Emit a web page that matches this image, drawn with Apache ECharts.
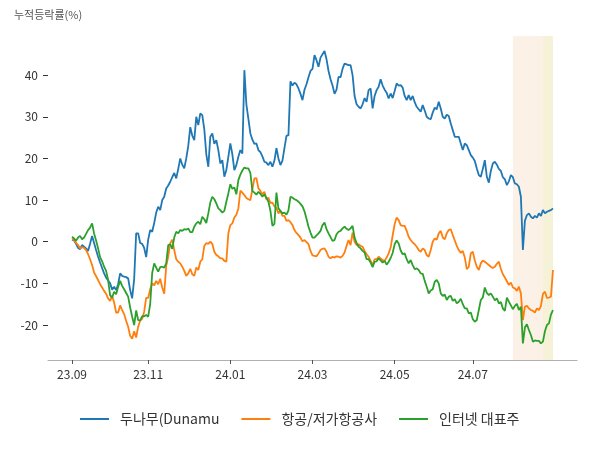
<!DOCTYPE html>
<html>
<head>
<meta charset="utf-8">
<script src="https://cdn.jsdelivr.net/npm/echarts@6/dist/echarts.min.js"></script>
<style>
html,body{margin:0;padding:0;background:#fff;}
#chart{width:600px;height:450px;}
</style>
</head>
<body>
<div id="chart"></div>
<script>
// ---- data ----
const seriesNames = ['두나무(Dunamu', '항공/저가항공사', '인터넷 대표주'];
const seriesColors = ['#1f77b4', '#ff7f0e', '#2ca02c'];
const startDate = '2023-09-01';
const endDate = '2024-08-27';
const holidays = ['2023-09-28','2023-09-29','2023-10-02','2023-10-03','2023-10-09','2023-12-25','2023-12-29',
  '2024-01-01','2024-02-09','2024-02-12','2024-03-01','2024-04-10','2024-05-01','2024-05-06','2024-05-15','2024-06-06','2024-08-15'];
const shadeRanges = [['2024-07-29','2024-08-27'],['2024-08-20','2024-08-27']];
const yTicks = [-20,-10,0,10,20,30,40];

const dunamu = [
0.5,0.3,-0.5,-1.5,-1.8,-0.8,-1.2,-1.6,-2.2,-0.5,
1.4,-0.3,-2.0,-3.6,-5.0,-6.3,-7.6,-8.6,-9.3,-10.0,
-11.5,-10.8,-11.6,-10.2,-7.6,-8.2,-8.4,-8.5,-8.8,-11.6,
-13.6,-9,2.0,2.0,-0.3,-0.5,-1.5,-3.7,0.5,2.8,
2.4,4.5,7,8.4,7.6,10,10.8,12.8,13.5,14.4,
15.5,16.5,15.2,17.5,20,18.5,17.6,20,23,27.5,
25.5,24.4,30,28,30.8,30.4,27,21,18,25.2,
26,23.5,24.4,22,18.8,19.6,15.6,17.2,20.4,23.6,
21,17.2,18.4,20.4,22,21.2,41.2,33,29.5,26,
24.5,23.5,23.6,22,21.5,20.5,19.2,19,18.4,19.2,
18,19.5,22.5,20,18.4,19.5,22.5,25.4,25.6,38.5,
37.5,38.2,37.8,36.8,35.5,34,36.5,37.8,39.5,41,
41.5,44.8,43.6,42,44.2,45,45.8,43.8,41,39,
37.5,35.5,36.5,39.6,39.5,41.5,42.8,42.6,42.4,42.4,
40,35,33,32.4,32,33,34.5,33.6,36.4,36.8,
32,35,36.4,37.2,39,37.5,36.5,35.8,34.4,35.6,
34.5,36.2,38,37.5,37.6,37,35,34,35.2,34,
35,33.5,32.4,31.8,31.2,32.8,31.5,30,29.6,29.4,
31,32.2,31.8,33.6,32,30,29.6,30.5,30.2,28.4,
26.8,25.2,25.2,25.2,23.6,22,23.6,23.2,22,20.8,
20.2,19.4,17.6,16,15.6,17.5,19.6,15.6,14.2,17,
18.8,19.2,18.5,17.5,17,15.5,15,13.6,14.5,16,
15.5,14,13.8,13.2,10.8,-2,5,6.4,6.8,6,
5.6,6.2,5.8,6.8,6.2,7.6,6.8,7.2,7.4,7.6,8
];
const airline = [
0.8,0.4,-0.3,-0.8,-1.6,-1.3,-1.5,-2,-3,-4.2,
-5.6,-7.4,-8.3,-9.2,-10.2,-11,-11.8,-12.5,-13.6,-14.2,
-13,-14.6,-17,-17,-15.3,-16.4,-17.4,-19,-20.4,-22.6,
-23.3,-21.5,-23,-20.4,-18.9,-18.5,-16.8,-13.5,-13.5,-11.4,
-10,-10.5,-9.4,-10.2,-8.9,-11,-12.5,-5.8,-3.6,-0.4,
0.5,-2,-4.2,-4.8,-5.2,-6,-7,-8.2,-7.6,-6.5,
-7.8,-8.2,-6.2,-6.8,-4.8,-4.2,-1,-0.3,-0.5,0,
-0.5,-2.4,-3.2,-3.5,-4,-4,-4.6,-4.8,2,4,
4.4,5.8,6.5,8,12.3,11.8,11.2,10.5,10.2,10,
12.6,15.2,15.3,12.8,12.2,11.4,12,10.2,10.6,9.3,
9.4,8.5,8.1,6.8,7.4,6.2,6.2,5,5.2,4.7,
4,2.8,2.1,1.6,1,0.1,0.4,-0.1,-0.6,-2.2,
-3.3,-3.4,-3.5,-2.8,-2,-1.7,-1.6,-2.4,-3.6,-4,
-3.6,-3.8,-3.5,-3.6,-3.8,-3.4,-2.6,-1,0.4,-0.8,
2.2,0,-0.8,-0.6,-1,-1.2,-2.2,-3,-3.6,-4.6,
-5.6,-4.2,-4.2,-3.6,-4,-4.4,-4.6,-3.8,-2.8,-1.4,
1.5,4.2,5.8,5.2,4,3.8,3.8,2.6,1.2,0.4,
-0.2,-0.6,-1.2,-2,-2.4,-1.6,-2,-3.2,-3.6,-2,
0,0.8,0.5,2,2.6,1,0.6,2,2.8,3,
1.6,0.3,-1,-2,-2.7,-2.2,-3.8,-6.6,-6,-2.8,
-2.4,-4.5,-6,-6.8,-5.2,-4.5,-4.8,-5.2,-5.6,-6,
-6.3,-6,-5.3,-4.8,-6.5,-7.8,-8.6,-9.5,-10.4,-9.8,
-11,-11.2,-11.8,-10.8,-12.4,-18.8,-15.6,-15.4,-16,-16.4,
-16.6,-17,-16,-16.4,-15.4,-12.5,-12,-13.5,-13.4,-13.2,-6.8
];
const internet = [
1.2,0.8,0.2,1,1.4,0.6,1,1.9,2.8,3.4,
4.4,2,0.3,-1.6,-3.7,-4.7,-6,-7,-9.2,-12.9,
-13.4,-12,-12.6,-10.8,-9.4,-10.6,-11.4,-12.3,-13.2,-15.8,
-18,-20,-16.5,-18.8,-18.9,-17.9,-17.9,-17.6,-18,-15,
-7.5,-5.2,-6.2,-7.2,-6.1,-6,-6.2,-5.2,-0.8,-0.6,
-1.7,1,2.4,2,2.8,2.6,3,2.9,3.2,2.3,
2.3,3.6,4.4,4.8,4.2,6,5.4,4.5,6.8,9.4,
10.8,10.2,9.2,8,7.6,7,7.4,9.6,11.6,13.8,
12.7,13,11.4,14.8,16.1,17.1,17.8,17.6,17.6,16.5,
12.2,11.8,11.3,12,11.5,10.8,11.4,10.5,9.6,7.4,
3.8,4.3,11.8,8,7.4,6.8,7,6.5,7.5,10.8,
10.6,10.2,10,9.6,9.1,8.5,7.3,5.5,3.6,2.2,
1,1,1.5,2,2.6,4,4.6,3,2,1.1,
0.2,0.4,1.8,2.4,2.6,3.2,3.6,3.1,2.8,3.2,
3.8,1,-0.3,-1.2,-1.6,-2.2,-2.6,-4.2,-4.2,-5,
-6.1,-4.8,-4.7,-4,-4.5,-5,-4.6,-5.5,-4.8,-3.9,
-2.7,-0.6,0.3,-0.4,-2.1,-3,-2.8,-4.2,-5.2,-4.4,
-5.6,-6.6,-6.4,-6.8,-7.6,-7.7,-9.4,-10.8,-12.4,-11.7,
-11.4,-9.6,-9.2,-10,-12.4,-13,-12.7,-14,-13.2,-13,
-14.2,-13.8,-14.8,-14.4,-13.7,-15,-16,-16,-17.2,-17,
-18.6,-19.2,-18.8,-16.4,-14,-13.4,-11,-12.3,-12.8,-12.4,
-13.2,-14.1,-13.6,-14.8,-14.5,-16,-16.6,-13.4,-14.4,-15.3,
-16.2,-15.4,-14.9,-16.4,-15.6,-24.4,-20.6,-19.8,-21.2,-22.4,
-24,-23.7,-23.8,-23.8,-24.4,-24,-21.5,-20,-19.6,-17.5,-16.4
];

// ---- trading-day categories ----
function pad(n){return (n<10?'0':'')+n;}
const dates = [];
(function(){
  const d = new Date(startDate+'T00:00:00Z');
  const end = new Date(endDate+'T00:00:00Z');
  while (d <= end) {
    const s = d.getUTCFullYear()+'-'+pad(d.getUTCMonth()+1)+'-'+pad(d.getUTCDate());
    const wd = d.getUTCDay();
    if (wd !== 0 && wd !== 6 && holidays.indexOf(s) < 0) dates.push(s);
    d.setUTCDate(d.getUTCDate()+1);
  }
})();
// 5% empty margin on both ends of the category axis (like the original plot)
const M = Math.round((dates.length - 1) * 0.05);
const cats = [];
for (let k = M; k >= 1; k--) cats.push('padL' + k);
dates.forEach(s => cats.push(s));
for (let k = 1; k <= M; k++) cats.push('padR' + k);

function isTickDay(s){
  const i = dates.indexOf(s);
  if (i < 0) return false;
  const m = +s.slice(5,7);
  return m % 2 === 1 && (i === 0 || dates[i-1].slice(5,7) !== s.slice(5,7));
}
const tickFn = (idx, val) => isTickDay(val);
const pts = arr => arr.map((v,i)=>[M + i, v]);

const font = "'Noto Sans CJK KR', 'Noto Sans', sans-serif";
const chart = echarts.init(document.getElementById('chart'), null, {renderer:'canvas'});
const lineSeries = [dunamu, airline, internet].map((arr,k)=>({
  type:'line', name:seriesNames[k], data:pts(arr), showSymbol:false, symbol:'none', z:3,
  itemStyle:{color:seriesColors[k]}, lineStyle:{width:1.8, color:seriesColors[k]}
}));
chart.setOption({
  animation:false,
  textStyle:{fontFamily:font},
  title:{text:'누적등락률(%)', left:9, top:4, textStyle:{fontSize:11, fontWeight:'normal', color:'#555', fontFamily:font}},
  grid:{left:48, right:23, top:36, bottom:90, containLabel:false},
  legend:{data:seriesNames, left:80, top:412, padding:0, icon:'rect', itemWidth:29, itemHeight:2, itemGap:22,
    textStyle:{fontSize:14, color:'#333', fontFamily:font, padding:[0,0,0,6]}},
  xAxis:{type:'category', data:cats, boundaryGap:false, position:'bottom',
    splitLine:{show:false},
    axisLine:{show:true, onZero:false, lineStyle:{color:'#b0b0b0', width:1}},
    axisTick:{show:true, interval:tickFn, length:4, lineStyle:{color:'#555'}},
    axisLabel:{interval:tickFn, margin:8, fontSize:12, color:'#333', fontFamily:font,
      formatter:v=>isTickDay(v) ? v.slice(2,4)+'.'+v.slice(5,7) : ''}
  },
  yAxis:{type:'value', min:-28.4, max:49.4,
    splitLine:{show:false},
    axisLine:{show:false},
    axisTick:{show:true, customValues:yTicks, length:5, lineStyle:{color:'#333'}},
    axisLabel:{customValues:yTicks, margin:10, fontSize:12, color:'#333', fontFamily:font}
  },
  series:[
    {type:'line', name:'_shade', data:[], silent:true, z:1,
      markArea:{silent:true, data:[
        [{xAxis:shadeRanges[0][0], itemStyle:{color:'#fbf1e7'}},{xAxis:shadeRanges[0][1]}],
        [{xAxis:shadeRanges[1][0], itemStyle:{color:'#f6f2d8'}},{xAxis:shadeRanges[1][1]}]
      ]}}
  ].concat(lineSeries)
});
</script>
</body>
</html>
